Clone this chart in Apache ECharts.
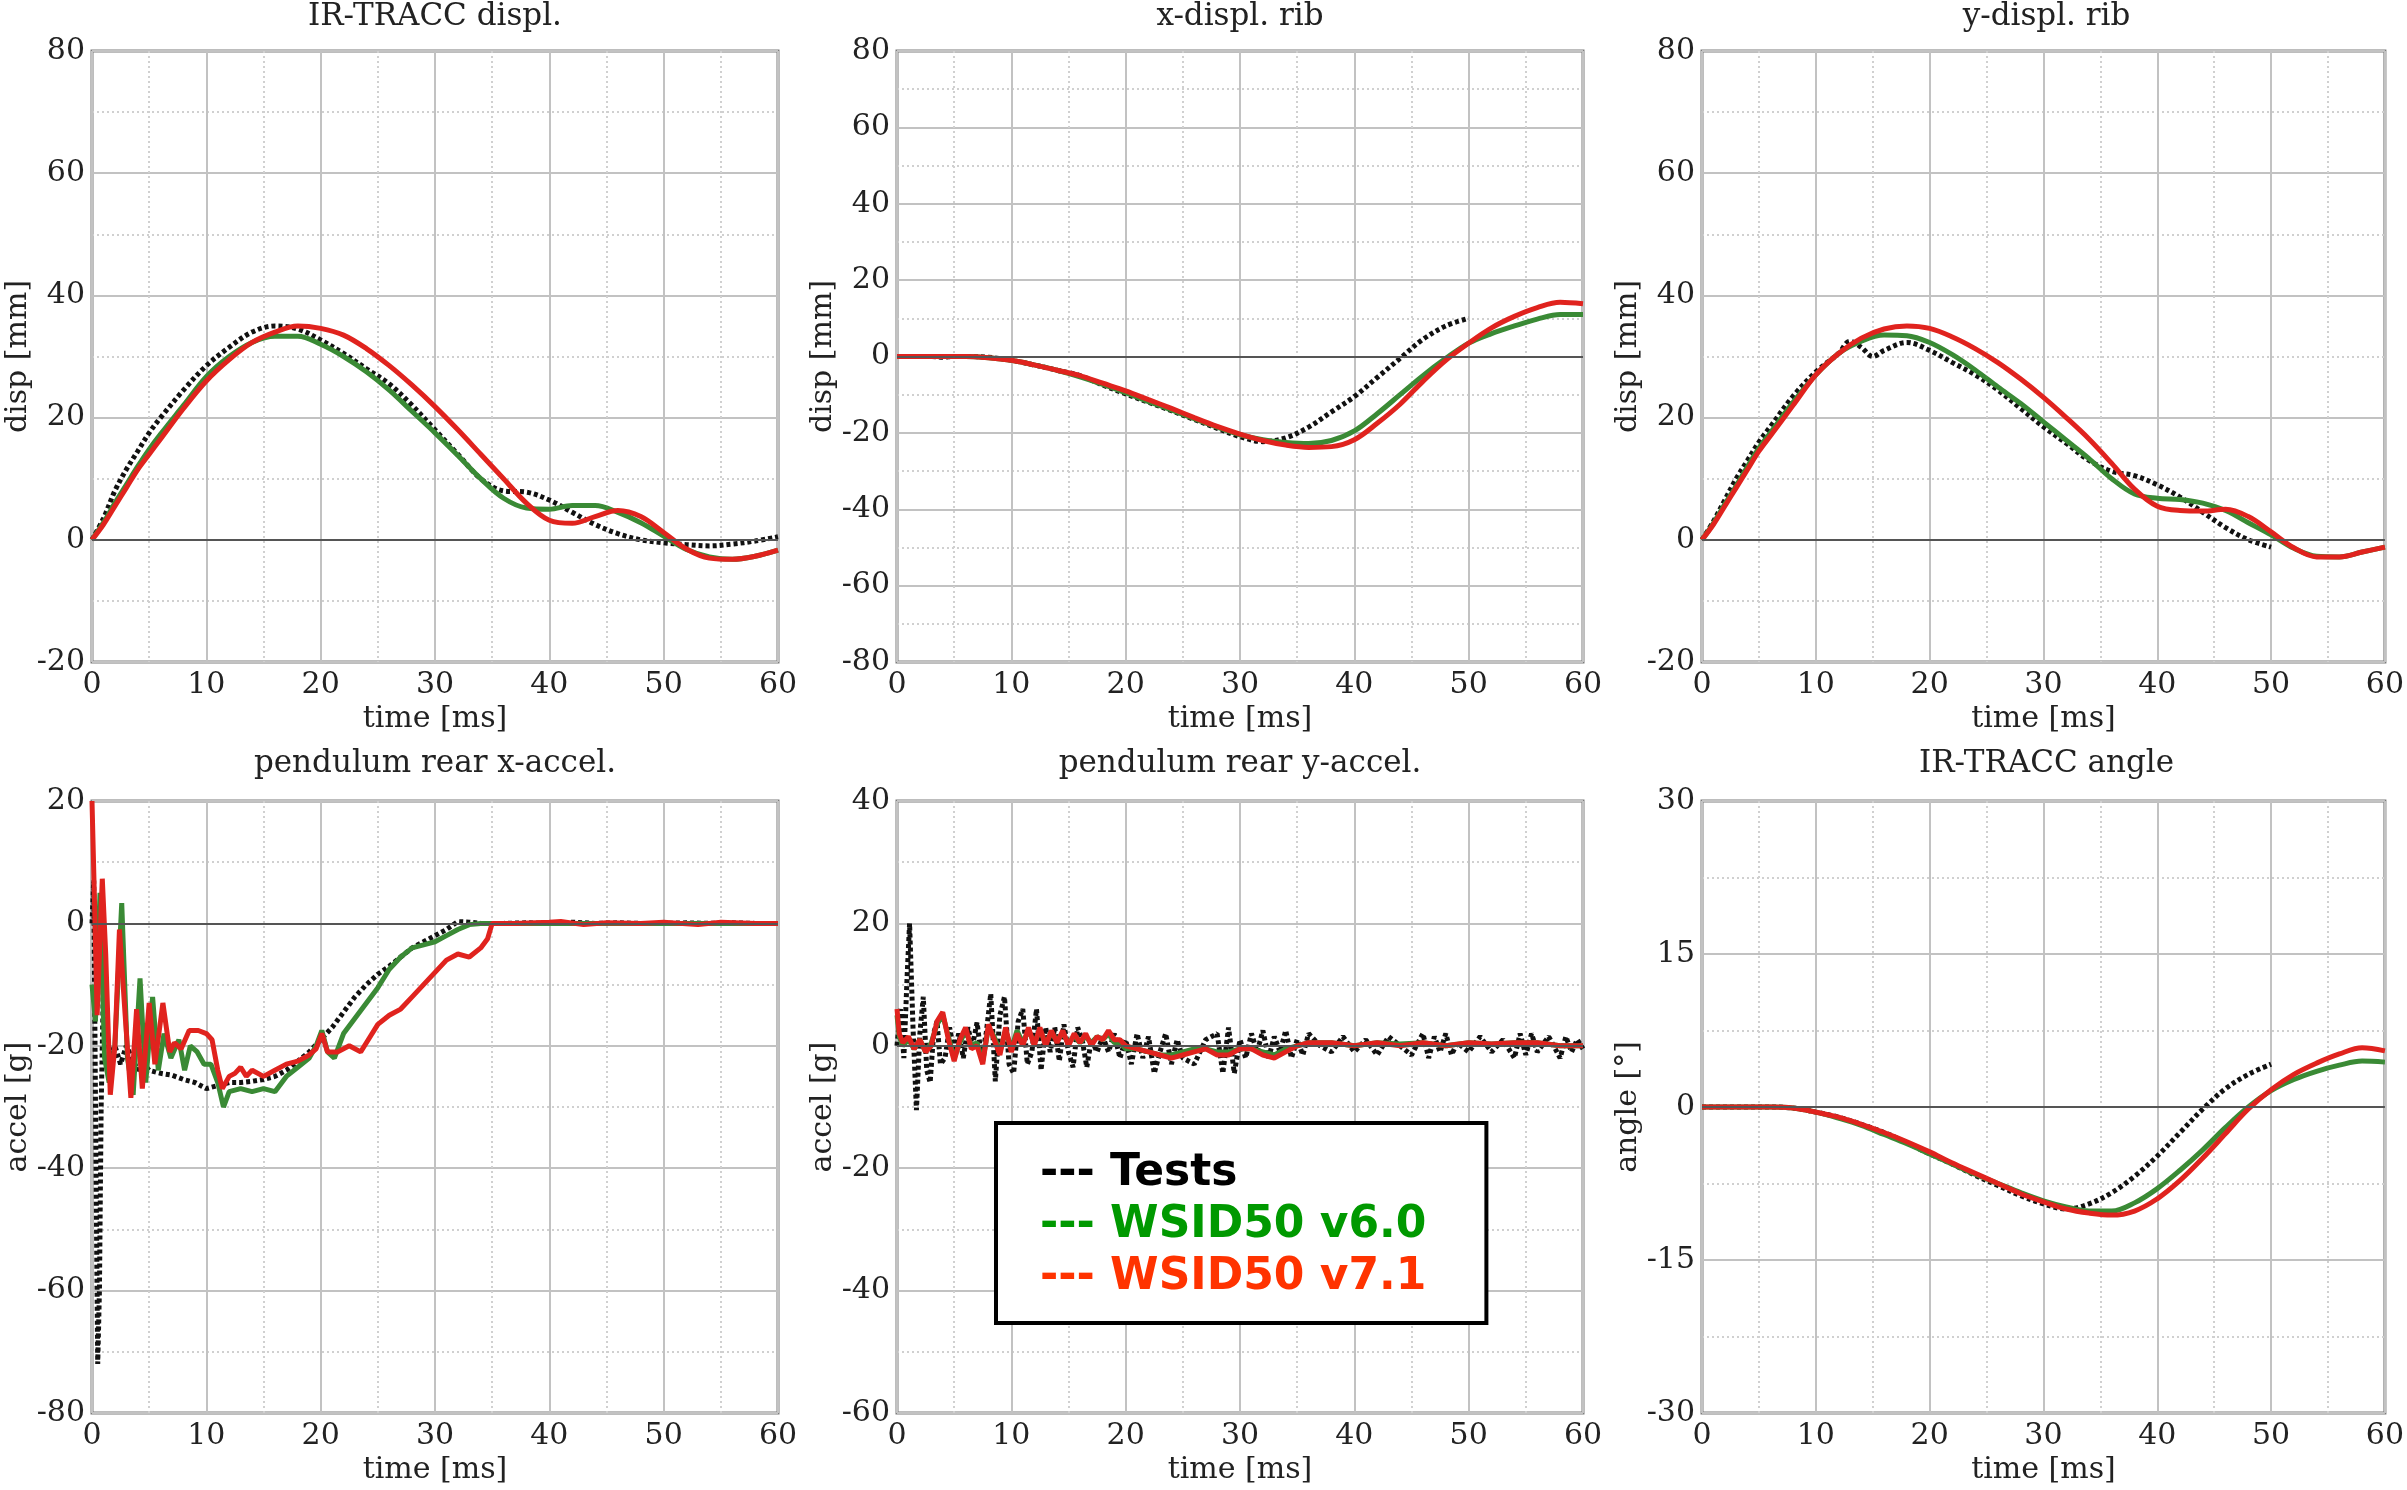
<!DOCTYPE html>
<html>
<head>
<meta charset="utf-8">
<script src="https://cdn.jsdelivr.net/npm/echarts@6/dist/echarts.min.js"></script>
<style>
html,body{margin:0;padding:0;background:#fff;}
#chart{width:2407px;height:1490px;}
</style>
</head>
<body>
<div id="chart"></div>
<script>
// ---------------- DATA ----------------
const seriesNames = ['Tests', 'WSID50 v6.0', 'WSID50 v7.1'];
const panelTitles = ['IR-TRACC displ.', 'x-displ. rib', 'y-displ. rib', 'pendulum rear x-accel.', 'pendulum rear y-accel.', 'IR-TRACC angle'];
const yNames = ['disp [mm]', 'disp [mm]', 'disp [mm]', 'accel [g]', 'accel [g]', 'angle [°]'];
const xName = 'time [ms]';

// common time grid for smooth curves [ms]
const tS = [0,1,2,3,4,5,6,8,10,12,14,16,18,20,22,24,26,28,30,32,34,36,38,40,42,44,46,48,50,52,54,56,58,60];
const tS50 = [0,1,2,3,4,5,6,8,10,12,14,16,18,20,22,24,26,28,30,32,34,36,38,40,42,44,46,48,50];

// Panel 1: IR-TRACC displ.
const p1Test = [0,3.5,8,11.5,14.5,17.5,20,24.5,28.5,31.5,34,35,34.5,32.7,30.5,28,25.5,22,18,14,10,8,7.8,6.5,4.5,2.5,1,0,-0.5,-0.8,-1,-0.7,-0.2,0.5];
const p1V60 = [0,2.8,6,9,12,14.8,17.3,22,26.7,30,32.3,33.3,33.3,32,30,27.5,24.5,21,17.5,13.8,10,6.8,5.2,5,5.6,5.6,4.5,2.8,0.6,-1.6,-2.8,-3.2,-2.7,-1.7];
const p1V71 = [0,2.5,5.5,8.5,11.5,14,16.5,21.5,26,29.5,32.3,34,35,34.6,33.5,31.3,28.5,25.3,21.8,18,14,10,6,3.2,2.7,3.8,4.8,3.8,1.2,-1.5,-3,-3.2,-2.7,-1.7];

// Panel 2: x-displ. rib
const p2Test = [0,0,0,0,-0.2,0,0,-0.2,-1,-2.2,-3.6,-5,-7.5,-9.8,-12,-14.2,-16.5,-18.8,-21,-22.3,-21.3,-18.5,-14.5,-10.5,-5.5,-0.5,4.5,8,10];
const p2V60 = [0,0,0,0,0,0,0,-0.3,-1,-2.2,-3.6,-5.3,-7.3,-9.5,-11.8,-14,-16.3,-18.5,-20.5,-21.8,-22.5,-22.8,-22,-19.5,-15,-10,-5,-0.5,3.5,6,8,9.8,11,11];
const p2V71 = [0,0,0,0,0,0,0,-0.3,-1,-2.2,-3.6,-5,-7,-9,-11.3,-13.6,-16,-18.3,-20.3,-22,-23.2,-23.8,-23.6,-21.8,-17.5,-12.5,-6.5,-1,3.5,7.5,10.5,12.8,14.2,13.8];

// Panel 3: y-displ. rib
const p3TestT = [0,1,2,3,4,5,6,8,10,12,13,14,15,16,18,20,22,24,26,28,30,32,34,36,38,40,42,44,46,48,50];
const p3Test = [0,3,6.5,10,13,16,18.5,23.5,27.5,30.5,32.5,31.5,30,31,32.3,31,29,27,24.5,21.5,18.5,15.8,13,11.2,10.5,9,7,4.5,2,0,-1.2];
const p3V60 = [0,2.7,5.8,8.8,12,15,17.5,22.5,27,30.5,32.5,33.5,33.4,32.3,30.3,27.8,25,22.3,19.3,16.3,13.3,10,7.5,6.8,6.6,6,4.8,2.8,0.8,-1.4,-2.7,-2.8,-2,-1.2];
const p3V71 = [0,2.5,5.5,8.5,11.5,14.5,17,22,27,30.5,33,34.5,35,34.6,33.2,31.3,29,26.3,23.3,20,16.5,12.5,8.3,5.5,4.8,4.7,5,3.8,1.3,-1.3,-2.8,-2.8,-2,-1.2];

// Panel 4: pendulum rear x-accel.
const p4TestT = [0,0.15,0.35,0.5,0.65,0.8,1.0,1.3,1.6,2.0,
  2.5,3.0,3.5,4,4.5,5,6,7,8,9,
  10,11,12,13,14,15,16,17,18,19,
  20,21,22,23,24,25,26,27,28,29,
  30,31,32,33,34,36,38,40,42,44,
  46,48,50,52,54,56,58,60];
const p4Test = [0,7,-40,-72,-60,-30,-10,-18,-22,-20,
  -23,-20,-22,-24,-23,-24,-24.5,-24.8,-25.5,-26,
  -27,-26.5,-26,-26,-25.8,-25.5,-25,-24,-22.5,-21,
  -19,-17,-14.5,-12,-10,-8.3,-7,-5.5,-4,-3,
  -2,-1,0.3,0.2,0,0,0.1,0,0.2,0,
  0.1,0,0,0.1,0,0.1,0,0];
const p4V60T = [0,0.3,0.7,1.1,1.5,2.0,2.6,3.1,3.6,4.2,
  4.7,5.3,5.8,6.3,6.9,7.6,8.1,8.6,9.2,9.8,
  10.4,11.0,11.5,12,13,14,15,16,17,18,
  19,19.6,20.1,20.6,21.2,22,23,24,25,26,
  27,28,29,30,31,32,33,34,35,40,
  45,50,55,60];
const p4V60 = [-10,-16,5,-22,-26,-20,3.3,-22,-28,-9,
  -26,-12,-24,-18,-22,-19,-24,-20,-21,-23,
  -23,-26,-30,-27.5,-27,-27.5,-27,-27.5,-25,-23.5,
  -22,-20,-17.5,-21,-22,-18,-15.5,-13,-10.5,-7.5,
  -5.5,-4,-3.5,-3,-2,-1,-0.2,0,0,0,
  0,0,0,0];
const p4V71T = [0,0.2,0.45,0.9,1.2,1.6,2.0,2.4,2.9,3.4,
  3.9,4.4,5.0,5.5,6.2,6.8,7.2,7.8,8.5,9.3,
  10.0,10.5,11.0,11.4,12.0,12.5,13.0,13.5,14,15,
  16,17,18,19,19.6,20.1,20.6,21.5,22.5,23.5,
  24,25,26,27,28,29,30,31,32,33,
  34,34.6,35,37,40,41,43,45,48,50,
  53,55,58,60];
const p4V71 = [20,5,-15,7.3,-5,-28,-20,-1,-15,-28.5,
  -14,-27,-13,-23,-13,-21,-19.5,-20.5,-17.5,-17.5,
  -18,-19,-24,-27,-25,-24.5,-23.5,-25,-24,-25,
  -24,-23,-22.5,-21.5,-20.5,-18,-21,-21,-20,-21,
  -19.5,-16.5,-15,-14,-12,-10,-8,-6,-5,-5.5,
  -4,-2.5,0,0,0.2,0.3,-0.2,0.1,0,0.2,
  -0.2,0.2,0,0];

// Panel 5: pendulum rear y-accel.
const p5TestT = [0,0.3,0.6,0.9,1.1,1.4,1.7,2.0,2.3,2.6,
  2.9,3.2,3.5,3.8,4.2,4.6,5.0,5.4,5.8,6.2,
  6.6,7.0,7.4,7.8,8.2,8.6,9.0,9.4,9.8,10.2,
  10.6,11.0,11.4,11.8,12.2,12.6,13.0,13.4,13.8,14.2,
  14.6,15.0,15.4,15.8,16.2,16.6,17.0,17.5,18,18.5,
  19,19.5,20,20.5,21,21.5,22,22.5,23,23.5,
  24,24.5,25,26,27,28,28.5,29,29.5,30,
  30.5,31,31.5,32,32.5,33,33.5,34,34.5,35,
  35.5,36,37,38,39,40,41,42,43,44,
  45,46,46.5,47,47.5,48,48.5,49,50,51,
  52,53,54,54.5,55,55.5,56,57,58,58.5,
  59,59.5,60];
const p5Test = [0,6,-2,12,20,3,-10.5,2,8,-4,
  -6,2,4,-3,-2,3,-1,2,-2,3,
  0,3.8,-2,2,8.5,-5.8,5,8,-3,-4.5,
  4,6,-3,-1,6,-4,3,-1,3,-2.5,
  3.5,-1,-3.5,3,1,-3.5,1,-1,1.5,-1,
  2,-2,1,-3,2,-2,1.5,-4.5,-1,2,
  -3,1,-2,-3,1,2,-4.5,3,-4.5,1,
  -2,2,-1,2.5,-2,1.5,-1,2.5,-2,1,
  -1.5,2,0,-1,1.5,-1,1,-1.5,1.5,0,
  -1.5,2,-2,1.5,-1,2,-1.5,0.5,-1,1.5,
  -1,1,-2,2,-1.5,2,-1,1.5,-2,1.5,
  -1,1,-0.5];
const p5ModelT = [0,0.2,0.5,1,1.5,2,2.5,3,3.5,4,
  4.5,5,5.5,6,6.5,7,7.5,8,8.5,9,
  9.5,10,10.5,11,11.5,12,12.5,13,13.5,14,
  14.5,15,15.5,16,16.5,17,17.5,18,18.5,19,
  19.5,20,21,22,23,24,25,26,27,28,
  29,30,31,32,33,34,35,36,38,40,
  42,44,46,48,50,52,54,56,58,60];
const p5V60 = [5,1.5,0,1,-0.5,1,-1,0.5,3.5,5,
  1.5,-2,0.5,2.5,0,0.5,-2.5,3,1.5,-1,
  2.5,-0.5,2.5,0.5,2.5,0.5,2.5,0.5,2,1,
  2,0.5,1.5,0.5,1.5,0.5,1.5,1,2,0.5,
  0.5,-0.5,-0.5,-1,-1.5,-1.5,-1,-0.5,-0.5,-1,
  -1,-0.5,-0.5,-1,-1.5,-0.5,0,0.5,0.5,0,
  0.5,0.3,0.5,0,0.5,0.3,0.5,0.5,0,0];
const p5V71 = [6,2,0.5,1.5,-0.5,1,-1,0,4,5.5,
  1,-2.5,1,3,-0.5,0,-3,3.5,1,-1.5,
  3,-1,2,0,3,0,3,0,2.5,0.5,
  2.5,0,2,0.5,2,0,1.5,1,2.5,1,
  1,0,-0.5,-1,-1.5,-2,-1.5,-1,-0.5,-1.5,
  -1.5,-0.5,-0.5,-1.5,-2,-1,0,0.5,0.5,0,
  0.5,0,0.5,0,0.5,0.3,0.5,0.5,0,0];

// Panel 6: IR-TRACC angle
const p6Test = [0,0,0,0,0,0,0,-0.1,-0.5,-1,-1.7,-2.5,-3.5,-4.6,-5.6,-6.7,-7.7,-8.7,-9.5,-10,-9.5,-8.4,-6.8,-4.8,-2.5,-0.2,1.8,3.2,4.2];
const p6V60 = [0,0,0,0,0,0,0,-0.1,-0.5,-1.1,-1.8,-2.7,-3.6,-4.6,-5.6,-6.6,-7.5,-8.4,-9.2,-9.8,-10.2,-10.2,-9.4,-8,-6.2,-4.2,-2,0,1.6,2.7,3.5,4.1,4.5,4.4];
const p6V71 = [0,0,0,0,0,0,0,-0.1,-0.5,-1,-1.7,-2.5,-3.4,-4.4,-5.5,-6.5,-7.5,-8.5,-9.3,-10,-10.4,-10.6,-10.2,-9,-7.2,-5,-2.6,-0.2,1.7,3.2,4.3,5.2,5.8,5.5];

// axis ranges
const yMin = [-20,-80,-20,-80,-60,-30];
const yMax = [80,80,80,20,40,30];
const yStep = [20,20,20,20,20,15];

// ---------------- LAYOUT / STYLE ----------------
const SERIF = 'DejaVu Serif';
const colTest = '#111111', colV60 = '#3a8a35', colV71 = '#e0231e';
const gridRects = [
  {left:92, top:51, width:686, height:611},
  {left:897, top:51, width:686, height:611},
  {left:1702, top:51, width:689, height:611},
  {left:92, top:801, width:686, height:612},
  {left:897, top:801, width:686, height:612},
  {left:1702, top:801, width:689, height:612}
];
const titleTops = [1,1,1,748,748,748];

function pairs(t, v) { return t.map((x, i) => [x, v[i]]); }

const panelData = [
  {test: pairs(tS, p1Test), v60: pairs(tS, p1V60), v71: pairs(tS, p1V71), smooth: true},
  {test: pairs(tS50, p2Test), v60: pairs(tS, p2V60), v71: pairs(tS, p2V71), smooth: true},
  {test: pairs(p3TestT, p3Test), v60: pairs(tS, p3V60), v71: pairs(tS, p3V71), smooth: true},
  {test: pairs(p4TestT, p4Test), v60: pairs(p4V60T, p4V60), v71: pairs(p4V71T, p4V71), smooth: false},
  {test: pairs(p5TestT, p5Test), v60: pairs(p5ModelT, p5V60), v71: pairs(p5ModelT, p5V71), smooth: false},
  {test: pairs(tS50, p6Test), v60: pairs(tS, p6V60), v71: pairs(tS, p6V71), smooth: true}
];

const grids = [], xAxes = [], yAxes = [], series = [], titles = [];
for (let i = 0; i < 6; i++) {
  const r = gridRects[i];
  grids.push({left: r.left, top: r.top, width: r.width, height: r.height, show: true,
    borderColor: '#7c7c7c', borderWidth: 3, backgroundColor: 'transparent', containLabel: false});
  titles.push({text: panelTitles[i], left: r.left + r.width / 2, top: titleTops[i], textAlign: 'center', padding: 0,
    textStyle: {fontFamily: SERIF, fontSize: 31, fontWeight: 'normal', color: '#222'}});
  xAxes.push({type: 'value', gridIndex: i, min: 0, max: 60, interval: 10,
    name: xName, nameLocation: 'middle', nameGap: 42,
    nameTextStyle: {fontFamily: SERIF, fontSize: 30, color: '#222'},
    axisLine: {show: false, onZero: false}, axisTick: {show: false},
    axisLabel: {fontFamily: SERIF, fontSize: 30, color: '#222', margin: 8},
    splitLine: {show: true, lineStyle: {color: '#c2c2c2', width: 2}},
    minorTick: {show: false, splitNumber: 2},
    minorSplitLine: {show: true, lineStyle: {color: '#d0d0d0', width: 2, type: [2, 3]}}
  });
  yAxes.push({type: 'value', gridIndex: i, min: yMin[i], max: yMax[i], interval: yStep[i],
    name: yNames[i], nameLocation: 'middle', nameGap: 58, nameRotate: 90,
    nameTextStyle: {fontFamily: SERIF, fontSize: 30, color: '#222'},
    axisLine: {show: false, onZero: false}, axisTick: {show: false},
    axisLabel: {fontFamily: SERIF, fontSize: 30, color: '#222', margin: 7},
    splitLine: {show: true, lineStyle: {color: '#c2c2c2', width: 2}},
    minorTick: {show: false, splitNumber: 2},
    minorSplitLine: {show: true, lineStyle: {color: '#d0d0d0', width: 2, type: [2, 3]}}
  });
  // zero line
  series.push({type: 'line', name: 'zero', xAxisIndex: i, yAxisIndex: i, data: [], silent: true,
    markLine: {silent: true, symbol: 'none', label: {show: false},
      lineStyle: {color: '#555', width: 2, type: 'solid'}, data: [{yAxis: 0}]}});
  const d = panelData[i];
  series.push({type: 'line', name: seriesNames[0], xAxisIndex: i, yAxisIndex: i, data: d.test,
    showSymbol: false, smooth: d.smooth ? 0.35 : false, clip: true,
    lineStyle: {color: colTest, width: 5, type: [4, 3]}, itemStyle: {color: colTest}});
  series.push({type: 'line', name: seriesNames[1], xAxisIndex: i, yAxisIndex: i, data: d.v60,
    showSymbol: false, smooth: d.smooth ? 0.35 : false, clip: true,
    lineStyle: {color: colV60, width: 5}, itemStyle: {color: colV60}});
  series.push({type: 'line', name: seriesNames[2], xAxisIndex: i, yAxisIndex: i, data: d.v71,
    showSymbol: false, smooth: d.smooth ? 0.35 : false, clip: true,
    lineStyle: {color: colV71, width: 5}, itemStyle: {color: colV71}});
}

const legendColors = ['#000000', '#009900', '#ff3300'];
const option = {
  animation: false,
  backgroundColor: '#ffffff',
  title: titles,
  grid: grids,
  xAxis: xAxes,
  yAxis: yAxes,
  legend: {
    orient: 'vertical', left: 996, top: 1123,
    backgroundColor: '#fff', borderColor: '#000', borderWidth: 4,
    padding: [25, 60, 19, 39], itemGap: 0, itemWidth: 0, itemHeight: 10, icon: 'none',
    selectedMode: false,
    formatter: n => '--- ' + n,
    textStyle: {fontFamily: 'DejaVu Sans', fontWeight: 'bold', fontSize: 44, lineHeight: 52},
    data: seriesNames.map((n, k) => ({name: n, textStyle: {color: legendColors[k]}}))
  },
  series: series
};

const chart = echarts.init(document.getElementById('chart'), null, {renderer: 'canvas'});
chart.setOption(option);
</script>
</body>
</html>
